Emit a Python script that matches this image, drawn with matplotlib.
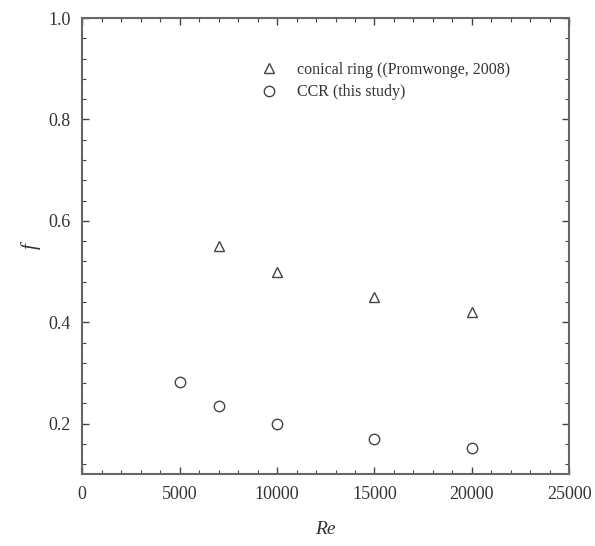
import matplotlib
matplotlib.use('Agg')
import matplotlib.pyplot as plt
from matplotlib.ticker import MultipleLocator

plt.rcParams['font.family'] = ['Liberation Serif', 'DejaVu Serif']

# dados
re_conical = [7000, 10000, 15000, 20000]
f_conical = [0.55, 0.50, 0.45, 0.42]
re_ccr = [5000, 7000, 10000, 15000, 20000]
f_ccr = [0.283, 0.235, 0.200, 0.170, 0.153]

cor = '#444444'

fig = plt.figure(figsize=(5.95, 5.46), dpi=100)
ax = fig.add_axes([0.138, 0.131, 0.819, 0.836])

ax.plot(re_conical, f_conical, linestyle='none', marker='^', markersize=7,
        markerfacecolor='none', markeredgecolor=cor, markeredgewidth=1.0,
        label='conical ring ((Promwonge, 2008)')
ax.plot(re_ccr, f_ccr, linestyle='none', marker='o', markersize=7.5,
        markerfacecolor='none', markeredgecolor=cor, markeredgewidth=1.0,
        label='CCR (this study)')

ax.set_xlim(0, 25000)
ax.set_ylim(0.1, 1.0)
ax.xaxis.set_major_locator(MultipleLocator(5000))
ax.xaxis.set_minor_locator(MultipleLocator(1000))
ax.yaxis.set_major_locator(MultipleLocator(0.2))
ax.yaxis.set_minor_locator(MultipleLocator(0.04))
ax.tick_params(which='both', direction='in', top=True, right=True, colors=cor,
               labelcolor='#333333', labelsize=13)
ax.tick_params(axis='x', which='major', pad=8)
ax.tick_params(axis='y', which='major', pad=8)
ax.tick_params(which='major', length=5, width=1)
ax.tick_params(which='minor', length=3, width=0.8)
for s in ax.spines.values():
    s.set_color('#666666')
    s.set_linewidth(1.5)

ax.set_xlabel('Re', style='italic', fontsize=14, color='#333333', labelpad=13)
ax.set_ylabel('f', style='italic', fontsize=15, color='#333333', labelpad=6)

ax.legend(loc='upper left', bbox_to_anchor=(0.322, 0.935), frameon=False,
          fontsize=11.5, handletextpad=0.7, labelspacing=0.4,
          labelcolor='#333333')

fig.savefig('out.png', dpi=100)
